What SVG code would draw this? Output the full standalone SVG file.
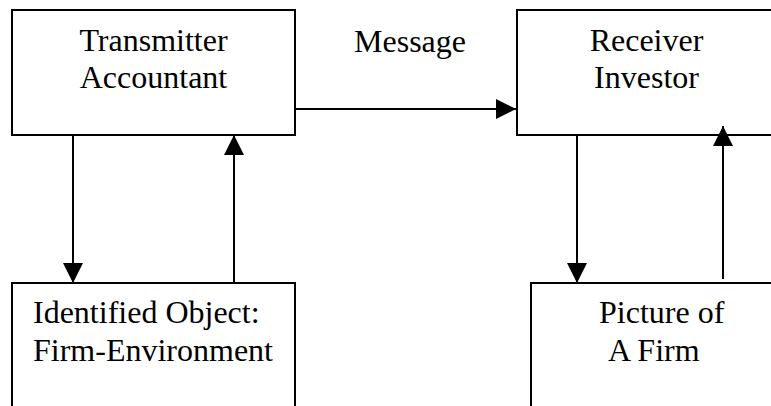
<svg xmlns="http://www.w3.org/2000/svg" width="771" height="406" viewBox="0 0 771 406">
<style>
.box{fill:#fff;stroke:#000;stroke-width:2}
.t{font-family:"Liberation Serif","Times New Roman",serif;font-size:32px;fill:#000}
.c{text-anchor:middle}
.conn{stroke:#000;stroke-width:2;fill:none}
</style>
<defs>
<marker id="ah" viewBox="0 0 20 20" refX="20" refY="10" markerWidth="20" markerHeight="20" markerUnits="userSpaceOnUse" orient="auto">
<path d="M0,0 L20,10 L0,20 z" fill="#000"/>
</marker>
</defs>
<rect width="771" height="406" fill="#fff"/>
<g id="transmitter">
<rect class="box" x="12" y="10" width="283" height="125"/>
<text class="t c" x="153.5" y="50.5">Transmitter</text>
<text class="t c" x="153.5" y="88">Accountant</text>
</g>
<g id="receiver">
<rect class="box" x="517" y="10" width="270" height="125"/>
<text class="t c" x="646.5" y="50.5">Receiver</text>
<text class="t c" x="646.5" y="88">Investor</text>
</g>
<g id="object">
<rect class="box" x="12" y="283" width="283" height="140"/>
<text class="t" x="33" y="323">Identified Object:</text>
<text class="t" x="33" y="361">Firm-Environment</text>
</g>
<g id="picture">
<rect class="box" x="531" y="283" width="260" height="140"/>
<text class="t" x="599" y="323">Picture of</text>
<text class="t" x="608" y="361">A Firm</text>
</g>
<g id="connectors">
<line class="conn" x1="295" y1="109" x2="516" y2="109" marker-end="url(#ah)"/>
<text class="t c" x="410" y="51.5">Message</text>
<line class="conn" x1="73" y1="135" x2="73" y2="283" marker-end="url(#ah)"/>
<line class="conn" x1="234" y1="283" x2="234" y2="135" marker-end="url(#ah)"/>
<line class="conn" x1="577" y1="135" x2="577" y2="283" marker-end="url(#ah)"/>
<line class="conn" x1="723" y1="279" x2="723" y2="126" marker-end="url(#ah)"/>
</g>
</svg>
